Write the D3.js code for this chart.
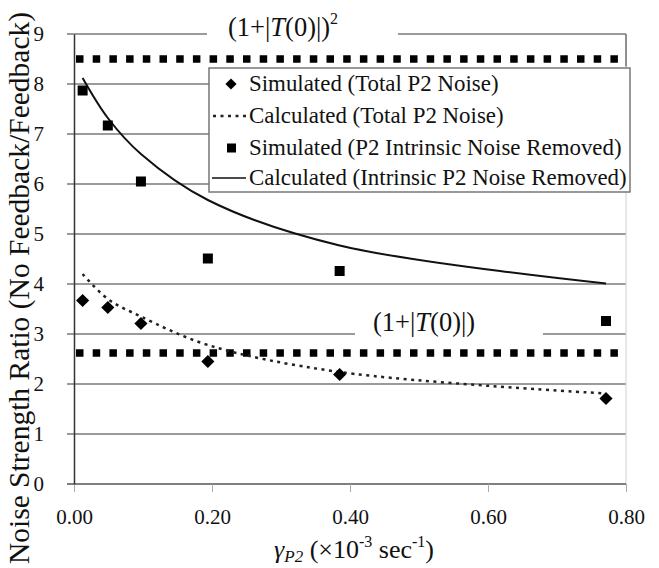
<!DOCTYPE html>
<meta charset="utf-8">
<script src="https://d3js.org/d3.v7.min.js"></script>
<style>
  body { margin: 0; background: #fff; }
  text { font-family: "Liberation Serif", "Times New Roman", serif; fill: #111; }
</style>
<div id="chart"></div>
<script>

// data
var gammaSim   = [0.0125, 0.049, 0.097, 0.194, 0.385, 0.771];
var simTotal   = [3.67, 3.53, 3.21, 2.45, 2.19, 1.71];
var simRemoved = [7.87, 7.17, 6.05, 4.51, 4.26, 3.26];

// calculated values at the same rates (drawn as a smoothed line)
var calcTotal   = [4.2, 3.7, 3.35, 2.78, 2.24, 1.81];
var calcRemoved = [8.12, 7.32, 6.6, 5.68, 4.77, 4.01];

var refLevels = [8.5, 2.62];
var xTicks = [0, 0.2, 0.4, 0.6, 0.8];
var yTicks = [0, 1, 2, 3, 4, 5, 6, 7, 8, 9];
var legendLabels = [
  "Simulated (Total P2 Noise)",
  "Calculated (Total P2 Noise)",
  "Simulated (P2 Intrinsic Noise Removed)",
  "Calculated (Intrinsic P2 Noise Removed)"
];

var width = 659, height = 568;

var svg = d3.select("#chart").append("svg")
  .attr("width", width)
  .attr("height", height);

var x = d3.scaleLinear().domain([0, 0.8]).range([74, 626]);
var y = d3.scaleLinear().domain([0, 9]).range([484, 34]);

// gridlines
svg.append("g").selectAll("line")
  .data(yTicks.filter(function(d) { return d > 0; }))
  .enter().append("line")
    .attr("x1", x(0) - 7).attr("x2", x(0.8))
    .attr("y1", function(d) { return y(d); })
    .attr("y2", function(d) { return y(d); })
    .attr("stroke", "#7a7a7a")
    .attr("stroke-width", 1.5);

// right border of plot area
svg.append("line")
  .attr("x1", x(0.8)).attr("x2", x(0.8))
  .attr("y1", y(9)).attr("y2", y(0))
  .attr("stroke", "#d0d0d0").attr("stroke-width", 1);
svg.append("line")
  .attr("x1", x(0.8)).attr("x2", x(0.8))
  .attr("y1", y(9)).attr("y2", y(8.35))
  .attr("stroke", "#555").attr("stroke-width", 1.2);

// X axis
var xAxis = svg.append("g")
  .attr("transform", "translate(0," + y(0) + ")")
  .call(d3.axisBottom(x).tickValues(xTicks).tickSize(8).tickFormat(d3.format(".2f")));
xAxis.select(".domain").attr("stroke", "#555").attr("stroke-width", 1.5)
  .attr("d", "M" + (x(0) - 7) + ",0H" + x(0.8));
xAxis.selectAll(".tick line").attr("stroke", "#aaa");
xAxis.selectAll(".tick text")
  .attr("y", 25)
  .style("font-size", "21px")
  .style("font-family", "Liberation Serif, serif");

// Y axis
var yAxis = svg.append("g")
  .attr("transform", "translate(" + x(0) + ",0)")
  .call(d3.axisLeft(y).tickValues(yTicks).tickSize(0));
yAxis.select(".domain").attr("stroke", "#333").attr("stroke-width", 1.5);
yAxis.selectAll(".tick text")
  .attr("x", -30)
  .style("font-size", "21px")
  .style("font-family", "Liberation Serif, serif");

// labels for the reference levels, over a white patch
svg.append("rect").attr("x", 207).attr("y", 18).attr("width", 191).attr("height", 30).attr("fill", "#fff");
svg.append("rect").attr("x", 355).attr("y", 312).attr("width", 188).attr("height", 30).attr("fill", "#fff");

var topLab = svg.append("text")
  .attr("x", 228).attr("y", 36)
  .style("font-size", "26.5px");
topLab.append("tspan").text("(1+|");
topLab.append("tspan").style("font-style", "italic").text("T");
topLab.append("tspan").text("(0)|)");
topLab.append("tspan").attr("dy", -12).style("font-size", "16px").text("2");

var botLab = svg.append("text")
  .attr("x", 373).attr("y", 331)
  .style("font-size", "26.5px");
botLab.append("tspan").text("(1+|");
botLab.append("tspan").style("font-style", "italic").text("T");
botLab.append("tspan").text("(0)|)");

// thick dotted reference lines
svg.append("g").selectAll("line")
  .data(refLevels)
  .enter().append("line")
    .attr("x1", x(0) + 2).attr("x2", x(0.8))
    .attr("y1", function(d) { return y(d); })
    .attr("y2", function(d) { return y(d); })
    .attr("stroke", "#000")
    .attr("stroke-width", 7.5)
    .attr("stroke-dasharray", "7.5,9.2");

// calculated curves
var line = d3.line()
  .x(function(d) { return x(d[0]); })
  .y(function(d) { return y(d[1]); })
  .curve(d3.curveCatmullRom.alpha(0.5));

svg.append("path")
  .datum(d3.zip(gammaSim, calcRemoved))
  .attr("d", line)
  .attr("fill", "none")
  .attr("stroke", "#111")
  .attr("stroke-width", 2);

svg.append("path")
  .datum(d3.zip(gammaSim, calcTotal))
  .attr("d", line)
  .attr("fill", "none")
  .attr("stroke", "#222")
  .attr("stroke-width", 2.5)
  .attr("stroke-dasharray", "3,4.5");

// simulated points
var diamond = d3.symbol().type(d3.symbolDiamond2).size(110);
svg.append("g").selectAll("path")
  .data(d3.zip(gammaSim, simTotal))
  .enter().append("path")
    .attr("d", diamond)
    .attr("transform", function(d) { return "translate(" + x(d[0]) + "," + y(d[1]) + ")"; })
    .attr("fill", "#000");

svg.append("g").selectAll("rect")
  .data(d3.zip(gammaSim, simRemoved))
  .enter().append("rect")
    .attr("x", function(d) { return x(d[0]) - 5; })
    .attr("y", function(d) { return y(d[1]) - 5; })
    .attr("width", 10).attr("height", 10)
    .attr("fill", "#000");

// legend
var legend = svg.append("g");
legend.append("rect")
  .attr("x", 209).attr("y", 68).attr("width", 421).attr("height", 124)
  .attr("fill", "#fff").attr("stroke", "#777").attr("stroke-width", 1.5);

var rowY = [84, 116, 148, 178];

legend.append("path")
  .attr("d", d3.symbol().type(d3.symbolDiamond2).size(80))
  .attr("transform", "translate(231," + rowY[0] + ")");
legend.append("line")
  .attr("x1", 213).attr("x2", 246).attr("y1", rowY[1]).attr("y2", rowY[1])
  .attr("stroke", "#222").attr("stroke-width", 2.5).attr("stroke-dasharray", "3,4.5");
legend.append("rect")
  .attr("x", 227).attr("y", rowY[2] - 4.5).attr("width", 9).attr("height", 9);
legend.append("line")
  .attr("x1", 212).attr("x2", 246).attr("y1", rowY[3]).attr("y2", rowY[3])
  .attr("stroke", "#111").attr("stroke-width", 1.5);

legend.selectAll("text.lab")
  .data(legendLabels)
  .enter().append("text")
    .attr("class", "lab")
    .attr("x", 249)
    .attr("y", function(d, i) { return rowY[i] + 7; })
    .style("font-size", "22.9px")
    .text(function(d) { return d; });

// axis titles
svg.append("text")
  .attr("transform", "translate(29,288) rotate(-90)")
  .attr("text-anchor", "middle")
  .style("font-size", "29.5px")
  .text("Noise Strength Ratio (No Feedback/Feedback)");

var xt = svg.append("text")
  .attr("x", 354).attr("y", 558)
  .attr("text-anchor", "middle")
  .style("font-size", "26px");
xt.append("tspan").style("font-style", "italic").text("γ");
xt.append("tspan").style("font-style", "italic").style("font-size", "17px").attr("dy", 4).text("P2");
xt.append("tspan").attr("dy", -4).text(" (×10");
xt.append("tspan").attr("dy", -11).style("font-size", "16px").text("-3");
xt.append("tspan").attr("dy", 11).text(" sec");
xt.append("tspan").attr("dy", -11).style("font-size", "16px").text("-1");
xt.append("tspan").attr("dy", 11).text(")");

</script>
